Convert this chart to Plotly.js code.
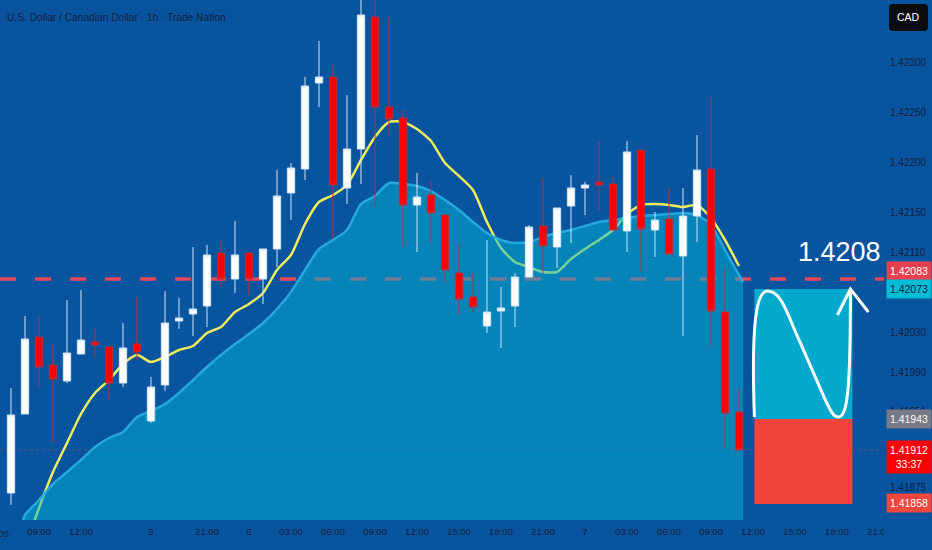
<!DOCTYPE html>
<html><head><meta charset="utf-8">
<script src="https://cdn.plot.ly/plotly-3.0.1.min.js"></script>
<style>html,body{margin:0;padding:0;background:#08549e;}#chart{width:932px;height:550px;}</style>
</head><body><div id="chart"></div>
<script>
// ---- data (USD/CAD 1h) ----
const opens  = [1.41869,1.41948,1.42025,1.41997,1.41981,1.42008,1.42020,1.42015,1.41979,1.42018,1.41941,1.41977,1.42041,1.42048,1.42056,1.42109,1.42083,1.42109,1.42083,1.42113,1.42169,1.42193,1.42279,1.42285,1.42174,1.42213,1.42345,1.42255,1.42244,1.42157,1.42167,1.42147,1.42089,1.42065,1.42036,1.42051,1.42056,1.42085,1.42136,1.42115,1.42156,1.42174,1.42180,1.42178,1.42131,1.42212,1.42132,1.42143,1.42106,1.42146,1.42193,1.42050,1.41950];
const highs  = [1.41974,1.42046,1.42046,1.42018,1.42062,1.42072,1.42034,1.42015,1.42039,1.42065,1.41985,1.42071,1.42064,1.42115,1.42117,1.42121,1.42141,1.42109,1.42113,1.42192,1.42199,1.42285,1.42321,1.42297,1.42267,1.42372,1.42372,1.42345,1.42252,1.42189,1.42181,1.42147,1.42118,1.42089,1.42122,1.42075,1.42089,1.42137,1.42184,1.42154,1.42187,1.42180,1.42220,1.42185,1.42221,1.42212,1.42150,1.42174,1.42174,1.42227,1.42265,1.42094,1.41974];
const lows   = [1.41857,1.41948,1.41975,1.41920,1.41979,1.42008,1.42005,1.41962,1.41975,1.42002,1.41939,1.41971,1.42033,1.42026,1.42035,1.42076,1.42069,1.42067,1.42058,1.42095,1.42142,1.42182,1.42255,1.42123,1.42158,1.42178,1.42155,1.42227,1.42115,1.42110,1.42119,1.42080,1.42047,1.42050,1.42029,1.42014,1.42035,1.42085,1.42089,1.42094,1.42119,1.42147,1.42152,1.42132,1.42110,1.42090,1.42105,1.42108,1.42026,1.42120,1.42015,1.41914,1.41912];
const closes = [1.41947,1.42023,1.41995,1.41983,1.42009,1.42022,1.42017,1.41979,1.42014,1.42010,1.41975,1.42039,1.42044,1.42053,1.42107,1.42083,1.42107,1.42083,1.42113,1.42166,1.42194,1.42276,1.42285,1.42177,1.42213,1.42347,1.42255,1.42243,1.42157,1.42165,1.42149,1.42092,1.42063,1.42055,1.42050,1.42054,1.42085,1.42135,1.42116,1.42154,1.42174,1.42177,1.42177,1.42132,1.42210,1.42133,1.42142,1.42108,1.42146,1.42192,1.42051,1.41949,1.41912];
const barIdx = opens.map((_, i) => i);

const emaVals = [1.41814,1.41854,1.41890,1.41919,1.41948,1.41969,1.41982,1.41998,1.42007,1.42000,1.42005,1.42012,1.42016,1.42029,1.42035,1.42050,1.42058,1.42069,1.42092,1.42107,1.42138,1.42160,1.42167,1.42177,1.42202,1.42225,1.42240,1.42240,1.42233,1.42221,1.42199,1.42186,1.42172,1.42140,1.42114,1.42100,1.42095,1.42090,1.42090,1.42103,1.42113,1.42122,1.42132,1.42148,1.42157,1.42158,1.42157,1.42155,1.42157,1.42144,1.42122,1.42096];
const emaIdx = emaVals.map((_, i) => i + 1);

const areaIdx = [0.86,1,2,3,4,5,6,7,8,9,10,11,12,13,14,15,16,17,18,19,20,21,22,23,24,25,26,27,28,29,30,31,32,33,34,35,36,37,38,39,40,41,42,43,44,45,46,47,48,49,50,51,52,52.3];
const areaVals = [1.41842,1.41847,1.41862,1.41878,1.41890,1.41902,1.41915,1.41924,1.41930,1.41945,1.41951,1.41958,1.41969,1.41982,1.41995,1.42007,1.42018,1.42028,1.42039,1.42053,1.42070,1.42092,1.42113,1.42122,1.42132,1.42158,1.42166,1.42179,1.42178,1.42176,1.42171,1.42162,1.42152,1.42140,1.42129,1.42122,1.42119,1.42120,1.42125,1.42129,1.42132,1.42136,1.42140,1.42142,1.42144,1.42146,1.42147,1.42148,1.42149,1.42147,1.42137,1.42112,1.42087,1.42080];

const timeTickIdx = [2,5,10,14,17,20,23,26,29,32,35,38,41,44,47,50,53,56,59,62];
const timeTickLabels = ["09:00","12:00","5","21:00","6","03:00","06:00","09:00","12:00","15:00","18:00","21:00","7","03:00","06:00","09:00","12:00","15:00","18:00","21:00"];
const priceTickVals = [1.42300,1.42250,1.42200,1.42150,1.42110,1.42030,1.41990,1.41951,1.41875];
const priceTickLabels = ["1.42300","1.42250","1.42200","1.42150","1.42110","1.42030","1.41990","1.41951","1.41875"];

const alertLevel = 1.42083;
const targetLevel = 1.42073;
const entryLevel = 1.41943;
const stopLevel = 1.41858;
const lastPrice = 1.41912;
const countdown = "33:37";
const boxStart = 53.1, boxEnd = 60.1;
const yRange = [1.41842, 1.42362];
const xRange = [-0.7857, 62.357];

// ---- styling ----
const BG = '#08549e';
const SANS = '"Liberation Sans", Arial, sans-serif';
const INK = '#10213f';

const traces = [
  {type:'scatter', mode:'lines', x: emaIdx, y: emaVals,
   line:{color:'#eeee5c', width:2.5, shape:'spline', smoothing:0.6}, hoverinfo:'skip', showlegend:false},
  {type:'scatter', mode:'lines', x: areaIdx, y: areaVals, fill:'tozeroy',
   fillcolor:'rgba(0,180,212,0.5)',
   line:{color:'rgba(40,172,222,0.95)', width:2.5, shape:'spline', smoothing:0.7}, hoverinfo:'skip', showlegend:false},
  {type:'candlestick', xaxis:'x2', yaxis:'y2', x: barIdx, open: opens, high: highs, low: lows, close: closes,
   increasing:{fillcolor:'#ffffff', line:{color:'#cfe4f5', width:1}},
   decreasing:{fillcolor:'#ff0000', line:{color:'#b83040', width:1}},
   whiskerwidth:0, hoverinfo:'skip', showlegend:false}
];

function bp(fx, fy){
  const x = boxStart + fx*(boxEnd-boxStart);
  const y = entryLevel + fy*(targetLevel-entryLevel);
  return x + ',' + y;
}
const curvePath = 'M' + bp(0,0.015) +
  ' C' + bp(-0.031,0.685) + ' ' + bp(0.010,0.985) + ' ' + bp(0.133,0.985) +
  ' C' + bp(0.286,0.985) + ' ' + bp(0.347,0.777) + ' ' + bp(0.469,0.585) +
  ' L' + bp(0.714,0.162) +
  ' C' + bp(0.776,0.062) + ' ' + bp(0.806,0.015) + ' ' + bp(0.857,0.015) +
  ' C' + bp(0.959,0.015) + ' ' + bp(0.980,0.300) + ' ' + bp(0.980,0.992);
const arrowPath = 'M' + bp(0.847,0.80) + ' L' + bp(0.980,1.0) + ' L' + bp(1.163,0.823);

function pxX(px){ return px/884; }
function pxY(py){ return 1 - py/520; }
function roundRect(x0,y0,x1,y1,r){
  return 'M'+pxX(x0+r)+','+pxY(y0)+' L'+pxX(x1-r)+','+pxY(y0)+
    ' Q'+pxX(x1)+','+pxY(y0)+' '+pxX(x1)+','+pxY(y0+r)+
    ' L'+pxX(x1)+','+pxY(y1-r)+' Q'+pxX(x1)+','+pxY(y1)+' '+pxX(x1-r)+','+pxY(y1)+
    ' L'+pxX(x0+r)+','+pxY(y1)+' Q'+pxX(x0)+','+pxY(y1)+' '+pxX(x0)+','+pxY(y1-r)+
    ' L'+pxX(x0)+','+pxY(y0+r)+' Q'+pxX(x0)+','+pxY(y0)+' '+pxX(x0+r)+','+pxY(y0)+' Z';
}

const shapes = [
  {type:'line', xref:'paper', x0:0, x1:1, yref:'y', y0:alertLevel, y1:alertLevel, layer:'below',
   line:{color:'#e2475c', width:3.5, dash:'16px,19px'}},
  {type:'line', xref:'paper', x0:0, x1:1, yref:'y', y0:lastPrice, y1:lastPrice, layer:'below',
   line:{color:'rgba(255,70,70,0.35)', width:1, dash:'dot'}},
  {type:'rect', xref:'x', yref:'y', x0:boxStart, x1:boxEnd, y0:entryLevel, y1:targetLevel,
   fillcolor:'#03a9cc', line:{width:0}, layer:'above'},
  {type:'rect', xref:'x', yref:'y', x0:boxStart, x1:boxEnd, y0:stopLevel, y1:entryLevel,
   fillcolor:'#f2443a', line:{width:0}, layer:'above'},
  {type:'path', xref:'x', yref:'y', path:curvePath, line:{color:'#ffffff', width:3}, layer:'above'},
  {type:'path', xref:'x', yref:'y', path:arrowPath, line:{color:'#ffffff', width:3}, layer:'above'},
  {type:'path', xref:'paper', yref:'paper', path:roundRect(889,4,928,31,4), fillcolor:'#0b0b0d', line:{width:0}, layer:'above'},
  {type:'rect', xref:'paper', yref:'paper', x0:1, x1:1.06, y0:-0.07, y1:0, fillcolor:BG, line:{width:0}, layer:'above'}
];

function priceBox(text, y, bg, color, yshift, h){
  return {xref:'paper', x:1, xanchor:'left', xshift:2, yref:'y', y:y, yanchor:'middle', yshift:yshift||0,
    text:text, showarrow:false, bgcolor:bg, borderpad:2, width:40, height:h||14, align:'center', valign:'middle',
    font:{family:SANS, size:10.5, color:color}};
}

const annotations = [
  {xref:'paper', x:1, xanchor:'right', xshift:-1, yref:'y', y:1.42110, yanchor:'middle',
   text:alertLevel.toFixed(4), showarrow:false, font:{family:SANS, size:27, color:'#ffffff'}},
  priceBox(alertLevel.toFixed(5), alertLevel, '#e8404f', '#ffffff', 8),
  priceBox(targetLevel.toFixed(5), targetLevel, '#00bcd4', INK, 0),
  priceBox(entryLevel.toFixed(5), entryLevel, '#787b86', '#ffffff', 0),
  priceBox(lastPrice.toFixed(5) + '<br>' + countdown, lastPrice, '#ff0000', '#ffffff', -6.5, 28),
  priceBox(stopLevel.toFixed(5), stopLevel, '#f2453d', '#ffffff', 1),
  {xref:'paper', x:pxX(908.5), xanchor:'center', yref:'paper', y:pxY(17.5), yanchor:'middle',
   text:'CAD', showarrow:false, font:{family:SANS, size:10.5, color:'#ffffff'}},
  {xref:'paper', x:pxX(-3), xanchor:'center', yref:'paper', y:pxY(533), yanchor:'middle',
   text:'06:00', showarrow:false, font:{family:SANS, size:9.5, color:INK}}
];

const layout = {
  width:932, height:550,
  margin:{l:0, r:48, t:0, b:30, pad:0},
  paper_bgcolor:BG, plot_bgcolor:BG,
  showlegend:false,
  boxgap:0.25,
  title:{text:'U.S. Dollar / Canadian Dollar · 1h · Trade Nation', xref:'container', yref:'container',
    x:7/932, xanchor:'left', y:1-17/550, yanchor:'middle', font:{family:SANS, size:10.2, color:INK}},
  xaxis:{range:xRange, tickmode:'array', tickvals:timeTickIdx, ticktext:timeTickLabels,
    showgrid:false, zeroline:false, showline:false, ticks:'', rangeslider:{visible:false},
    tickfont:{family:SANS, size:9.5, color:INK}, ticklabelstandoff:4, fixedrange:true},
  yaxis:{range:yRange, side:'right', tickmode:'array', tickvals:priceTickVals, ticktext:priceTickLabels,
    showgrid:false, zeroline:false, showline:false, ticks:'',
    tickfont:{family:SANS, size:10, color:INK}, ticklabelstandoff:5, fixedrange:true},
  xaxis2:{overlaying:'x', matches:'x', range:xRange, visible:false, rangeslider:{visible:false}, fixedrange:true},
  yaxis2:{overlaying:'y', range:yRange, visible:false, fixedrange:true},
  shapes:shapes, annotations:annotations
};

Plotly.newPlot('chart', traces, layout, {displayModeBar:false, staticPlot:true});
</script></body></html>
